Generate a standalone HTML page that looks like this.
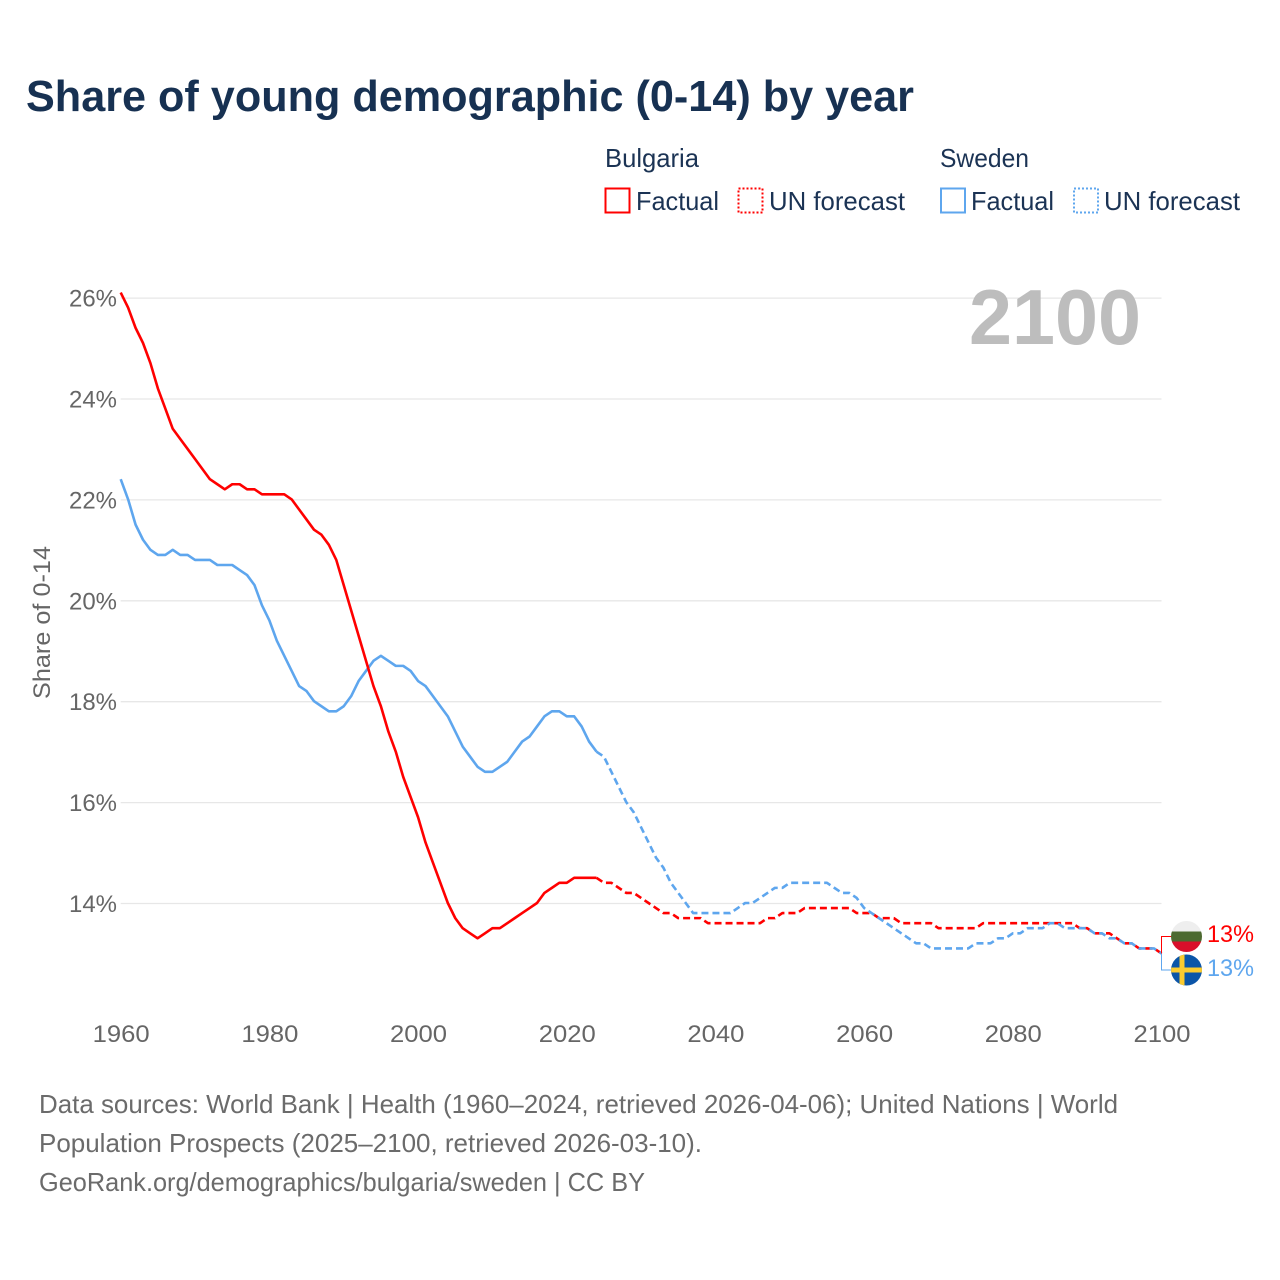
<!DOCTYPE html>
<html lang="en">
<head>
<meta charset="utf-8">
<title>Share of young demographic (0-14) by year</title>
<style>
html,body{margin:0;padding:0;background:#fff}
svg{display:block}
text{font-family:"Liberation Sans",sans-serif}
</style>
</head>
<body>
<svg id="chart" xmlns="http://www.w3.org/2000/svg" width="1280" height="1280" viewBox="0 0 1280 1280">
  <rect x="0" y="0" width="1280" height="1280" fill="#ffffff"/>
  <text x="26" y="111" font-size="44" font-weight="700" fill="#173152" textLength="888" lengthAdjust="spacingAndGlyphs">Share of young demographic (0-14) by year</text>

  <g font-size="26" fill="#1b3354">
    <text x="605" y="167" textLength="94" lengthAdjust="spacingAndGlyphs">Bulgaria</text>
    <text x="940" y="167" textLength="89" lengthAdjust="spacingAndGlyphs">Sweden</text>
    <g>
      <rect x="605.5" y="188.5" width="24" height="24" fill="#fff" stroke="#ff0000" stroke-width="2"/>
      <text x="636" y="210" textLength="83" lengthAdjust="spacingAndGlyphs">Factual</text>
    </g>
    <g>
      <rect x="738.5" y="188.5" width="24" height="24" fill="#fff" stroke="#ff0000" stroke-width="2" stroke-dasharray="2 2"/>
      <text x="769" y="210" textLength="136" lengthAdjust="spacingAndGlyphs">UN forecast</text>
    </g>
    <g>
      <rect x="941" y="188.5" width="24" height="24" fill="#fff" stroke="#5ea6ee" stroke-width="2"/>
      <text x="971" y="210" textLength="83" lengthAdjust="spacingAndGlyphs">Factual</text>
    </g>
    <g>
      <rect x="1074" y="188.5" width="24" height="24" fill="#fff" stroke="#5ea6ee" stroke-width="2" stroke-dasharray="2 2"/>
      <text x="1104" y="210" textLength="136" lengthAdjust="spacingAndGlyphs">UN forecast</text>
    </g>
  </g>

  <g id="grid"></g>
  <g id="y-ticks"></g>
  <g id="x-ticks"></g>
  <text transform="translate(50,699) rotate(-90)" x="0" y="0" font-size="24" fill="#666666" textLength="153" lengthAdjust="spacingAndGlyphs">Share of 0-14</text>
  <text x="969" y="344" font-size="78" font-weight="700" fill="#bdbdbd" textLength="172" lengthAdjust="spacingAndGlyphs">2100</text>

  <g id="series" fill="none" stroke-linejoin="round"></g>
  <g id="end-markers"></g>

  <defs>
    <clipPath id="clip-bg"><circle cx="1186.5" cy="936.5" r="15.5"/></clipPath>
    <clipPath id="clip-se"><circle cx="1186.5" cy="970" r="15.5"/></clipPath>
  </defs>
  <g clip-path="url(#clip-bg)">
    <rect x="1171" y="921" width="31" height="10.5" fill="#eeeeee"/>
    <rect x="1171" y="931.5" width="31" height="10" fill="#4c6a30"/>
    <rect x="1171" y="941.5" width="31" height="11" fill="#d90f2a"/>
  </g>
  <g clip-path="url(#clip-se)">
    <rect x="1171" y="954" width="31" height="32" fill="#0b55a8"/>
    <rect x="1171" y="967.5" width="31" height="5" fill="#fbcb2f"/>
    <rect x="1179.5" y="954" width="5" height="32" fill="#fbcb2f"/>
  </g>

  <g font-size="26" fill="#6b6b6b">
    <text x="39" y="1113" textLength="1079" lengthAdjust="spacingAndGlyphs">Data sources: World Bank | Health (1960–2024, retrieved 2026-04-06); United Nations | World</text>
    <text x="39" y="1152" textLength="663" lengthAdjust="spacingAndGlyphs">Population Prospects (2025–2100, retrieved 2026-03-10).</text>
    <text x="39" y="1191" textLength="606" lengthAdjust="spacingAndGlyphs">GeoRank.org/demographics/bulgaria/sweden | CC BY</text>
  </g>
</svg>

<script>
const yTickValues = [14, 16, 18, 20, 22, 24, 26];
const xTickYears = [1960, 1980, 2000, 2020, 2040, 2060, 2080, 2100];
const factualStartYear = 1960;
const forecastStartYear = 2024;

const bulgariaFactual = [
  26.1,25.8,25.4,25.1,24.7,24.2,23.8,23.4,23.2,23.0,
  22.8,22.6,22.4,22.3,22.2,22.3,22.3,22.2,22.2,22.1,
  22.1,22.1,22.1,22.0,21.8,21.6,21.4,21.3,21.1,20.8,
  20.3,19.8,19.3,18.8,18.3,17.9,17.4,17.0,16.5,16.1,
  15.7,15.2,14.8,14.4,14.0,13.7,13.5,13.4,13.3,13.4,
  13.5,13.5,13.6,13.7,13.8,13.9,14.0,14.2,14.3,14.4,
  14.4,14.5,14.5,14.5,14.5
];
const bulgariaForecast = [
  14.5,14.4,14.4,14.3,14.2,14.2,
  14.1,14.0,13.9,13.8,13.8,13.7,13.7,13.7,13.7,13.6,
  13.6,13.6,13.6,13.6,13.6,13.6,13.6,13.7,13.7,13.8,
  13.8,13.8,13.9,13.9,13.9,13.9,13.9,13.9,13.9,13.8,
  13.8,13.8,13.7,13.7,13.7,13.6,13.6,13.6,13.6,13.6,
  13.5,13.5,13.5,13.5,13.5,13.5,13.6,13.6,13.6,13.6,
  13.6,13.6,13.6,13.6,13.6,13.6,13.6,13.6,13.6,13.5,
  13.5,13.4,13.4,13.4,13.3,13.2,13.2,13.1,13.1,13.1,
  13.0
];
const swedenFactual = [
  22.4,22.0,21.5,21.2,21.0,20.9,20.9,21.0,20.9,20.9,
  20.8,20.8,20.8,20.7,20.7,20.7,20.6,20.5,20.3,19.9,
  19.6,19.2,18.9,18.6,18.3,18.2,18.0,17.9,17.8,17.8,
  17.9,18.1,18.4,18.6,18.8,18.9,18.8,18.7,18.7,18.6,
  18.4,18.3,18.1,17.9,17.7,17.4,17.1,16.9,16.7,16.6,
  16.6,16.7,16.8,17.0,17.2,17.3,17.5,17.7,17.8,17.8,
  17.7,17.7,17.5,17.2,17.0
];
const swedenForecast = [
  17.0,16.9,16.6,16.3,16.0,15.8,
  15.5,15.2,14.9,14.7,14.4,14.2,14.0,13.8,13.8,13.8,
  13.8,13.8,13.8,13.9,14.0,14.0,14.1,14.2,14.3,14.3,
  14.4,14.4,14.4,14.4,14.4,14.4,14.3,14.2,14.2,14.1,
  13.9,13.8,13.7,13.6,13.5,13.4,13.3,13.2,13.2,13.1,
  13.1,13.1,13.1,13.1,13.1,13.2,13.2,13.2,13.3,13.3,
  13.4,13.4,13.5,13.5,13.5,13.6,13.6,13.5,13.5,13.5,
  13.5,13.4,13.4,13.3,13.3,13.2,13.2,13.1,13.1,13.1,
  13.0
];

const SVG_NS = 'http://www.w3.org/2000/svg';
const BULGARIA_COLOR = '#ff0000';
const SWEDEN_COLOR = '#5ea6ee';

function xScale(year) { return 120.7 + (year - 1960) * (1161.5 - 120.7) / 140; }
function yScale(value) { return 903 - (value - 14) * (903 - 297.6) / 12; }

function linePath(values, startYear) {
  return values.map(function (v, i) {
    return (i ? 'L' : 'M') + xScale(startYear + i).toFixed(2) + ' ' + yScale(v).toFixed(2);
  }).join('');
}

const gridGroup = document.getElementById('grid');
const yTickGroup = document.getElementById('y-ticks');
const xTickGroup = document.getElementById('x-ticks');
const seriesGroup = document.getElementById('series');
const markerGroup = document.getElementById('end-markers');

yTickValues.forEach(function (v) {
  const line = document.createElementNS(SVG_NS, 'line');
  
  
  line.setAttribute('x1', xScale(1960));
  line.setAttribute('x2', xScale(2100));
  line.setAttribute('y1', yScale(v) + 0.5);
  line.setAttribute('y2', yScale(v) + 0.5);
  line.setAttribute('stroke', '#e7e7e7');
  line.setAttribute('stroke-width', '1.3');
  gridGroup.appendChild(line);

  const label = document.createElementNS(SVG_NS, 'text');
  
  
  label.setAttribute('x', 69);
  label.setAttribute('y', yScale(v) + 9);
  label.setAttribute('font-size', '24');
  label.setAttribute('fill', '#666666');
  label.setAttribute('textLength', '48');
  label.setAttribute('lengthAdjust', 'spacingAndGlyphs');
  label.textContent = v + '%';
  yTickGroup.appendChild(label);
});

xTickYears.forEach(function (year) {
  const label = document.createElementNS(SVG_NS, 'text');
  
  
  label.setAttribute('x', xScale(year) - 28);
  label.setAttribute('y', 1042);
  label.setAttribute('font-size', '24');
  label.setAttribute('fill', '#666666');
  label.setAttribute('textLength', '57');
  label.setAttribute('lengthAdjust', 'spacingAndGlyphs');
  label.textContent = year;
  xTickGroup.appendChild(label);
});

const swedenFactualLine = document.createElementNS(SVG_NS, 'path');


swedenFactualLine.setAttribute('d', linePath(swedenFactual, factualStartYear));
swedenFactualLine.setAttribute('stroke', SWEDEN_COLOR);
swedenFactualLine.setAttribute('stroke-width', '2.6');
seriesGroup.appendChild(swedenFactualLine);

const bulgariaFactualLine = document.createElementNS(SVG_NS, 'path');


bulgariaFactualLine.setAttribute('d', linePath(bulgariaFactual, factualStartYear));
bulgariaFactualLine.setAttribute('stroke', BULGARIA_COLOR);
bulgariaFactualLine.setAttribute('stroke-width', '2.6');
seriesGroup.appendChild(bulgariaFactualLine);

const bulgariaForecastLine = document.createElementNS(SVG_NS, 'path');


bulgariaForecastLine.setAttribute('d', linePath(bulgariaForecast, forecastStartYear));
bulgariaForecastLine.setAttribute('stroke', BULGARIA_COLOR);
bulgariaForecastLine.setAttribute('stroke-width', '2.6');
bulgariaForecastLine.setAttribute('stroke-dasharray', '7 4');
seriesGroup.appendChild(bulgariaForecastLine);

const swedenForecastLine = document.createElementNS(SVG_NS, 'path');


swedenForecastLine.setAttribute('d', linePath(swedenForecast, forecastStartYear));
swedenForecastLine.setAttribute('stroke', SWEDEN_COLOR);
swedenForecastLine.setAttribute('stroke-width', '2.6');
swedenForecastLine.setAttribute('stroke-dasharray', '7 4');
seriesGroup.appendChild(swedenForecastLine);

const bulgariaLast = bulgariaForecast[bulgariaForecast.length - 1];
const swedenLast = swedenForecast[swedenForecast.length - 1];

const bulgariaConnector = document.createElementNS(SVG_NS, 'path');


bulgariaConnector.setAttribute('d', 'M' + xScale(2100) + ' ' + yScale(bulgariaLast) + 'V936.5H1172');
bulgariaConnector.setAttribute('fill', 'none');
bulgariaConnector.setAttribute('stroke', BULGARIA_COLOR);
bulgariaConnector.setAttribute('stroke-width', '1');
markerGroup.appendChild(bulgariaConnector);

const swedenConnector = document.createElementNS(SVG_NS, 'path');


swedenConnector.setAttribute('d', 'M' + xScale(2100) + ' ' + yScale(swedenLast) + 'V970H1172');
swedenConnector.setAttribute('fill', 'none');
swedenConnector.setAttribute('stroke', SWEDEN_COLOR);
swedenConnector.setAttribute('stroke-width', '1');
markerGroup.appendChild(swedenConnector);

const bulgariaEndLabel = document.createElementNS(SVG_NS, 'text');


bulgariaEndLabel.setAttribute('x', 1207);
bulgariaEndLabel.setAttribute('y', 942);
bulgariaEndLabel.setAttribute('font-size', '24');
bulgariaEndLabel.setAttribute('fill', BULGARIA_COLOR);
bulgariaEndLabel.setAttribute('textLength', '47');
bulgariaEndLabel.setAttribute('lengthAdjust', 'spacingAndGlyphs');
bulgariaEndLabel.textContent = Math.round(bulgariaLast) + '%';
markerGroup.appendChild(bulgariaEndLabel);

const swedenEndLabel = document.createElementNS(SVG_NS, 'text');


swedenEndLabel.setAttribute('x', 1207);
swedenEndLabel.setAttribute('y', 976);
swedenEndLabel.setAttribute('font-size', '24');
swedenEndLabel.setAttribute('fill', SWEDEN_COLOR);
swedenEndLabel.setAttribute('textLength', '47');
swedenEndLabel.setAttribute('lengthAdjust', 'spacingAndGlyphs');
swedenEndLabel.textContent = Math.round(swedenLast) + '%';
markerGroup.appendChild(swedenEndLabel);
</script>
</body>
</html>
